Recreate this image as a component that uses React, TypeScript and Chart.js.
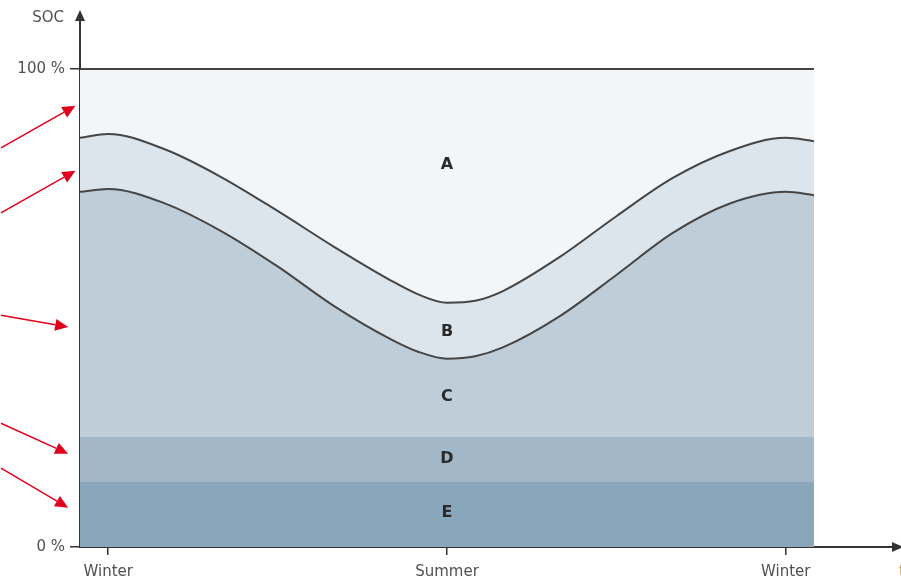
import React, { useEffect, useRef } from "react";
import { Chart, registerables } from "chart.js";

Chart.register(...registerables);

// ---- data ----
const seasonX = [-0.5, 0, 1, 2, 3, 4, 5, 5.5, 6, 6.5, 7, 8, 9, 10, 11, 12, 12.5];
const upperBoundary = [85.6, 86.4, 83.2, 77.4, 70.3, 62.8, 55.8, 52.8, 51.1, 51.5, 53.6, 60.7, 69.2, 77.2, 82.8, 85.6, 84.9];
const lowerBoundary = [74.3, 74.9, 71.9, 66.1, 58.7, 50.4, 43.5, 40.8, 39.4, 39.9, 41.8, 48.3, 56.9, 65.7, 71.8, 74.3, 73.6];
const levelD = 23.0;
const levelE = 13.6;
const levelFull = 100;

const xTickValues = [0, 6, 12];
const xTickLabels = ["Winter", "Summer", "Winter"];
const yTickValues = [0, 100];
const yTickLabels = ["0 %", "100 %"];

const regionNames = ["A", "B", "C", "D", "E"];
const regionLabelX = [6, 6, 6, 6, 6];
const regionLabelY = [79.9, 45.0, 31.4, 18.4, 7.1];

const yAxisTitle = "SOC";
const xAxisTitle = "t";

// red annotation arrows: tail (x,y) -> tip (x,y) in data units
const arrowTailX = [-1.9, -1.9, -1.9, -1.9, -1.9];
const arrowTailY = [83.5, 69.9, 48.5, 25.9, 16.5];
const arrowTipX = [-0.58, -0.58, -0.71, -0.71, -0.71];
const arrowTipY = [92.3, 78.7, 46.0, 19.5, 8.2];

const colA = "#f3f6f9";
const colB = "#dce4ec";
const colC = "#bfcdd9";
const colD = "#a2b7c8";
const colE = "#8aa6ba";
const lineCol = "#454545";
const axisCol = "#333333";
const textCol = "#505050";
const FONT = "'DejaVu Sans', sans-serif";

const xMin = -0.5;
const xMax = 13.9;
const yMax = 110.25;

function pts(ys: number[]) {
  return seasonX.map((x, i) => ({ x, y: ys[i] }));
}
function flat(v: number) {
  return [
    { x: seasonX[0], y: v },
    { x: seasonX[seasonX.length - 1], y: v },
  ];
}

const overlay = {
  id: "overlay",
  afterDraw(chart: any) {
    const { ctx, chartArea, scales } = chart;
    const xs = scales.x;
    const ys = scales.y;
    ctx.save();
    // axis arrowheads
    ctx.fillStyle = axisCol;
    const left = chartArea.left;
    const top = chartArea.top;
    const bottom = chartArea.bottom;
    const right = chartArea.right;
    ctx.beginPath();
    ctx.moveTo(left, top - 10);
    ctx.lineTo(left - 5, top + 1);
    ctx.lineTo(left + 5, top + 1);
    ctx.closePath();
    ctx.fill();
    ctx.beginPath();
    ctx.moveTo(right + 10, bottom);
    ctx.lineTo(right - 1, bottom - 5);
    ctx.lineTo(right - 1, bottom + 5);
    ctx.closePath();
    ctx.fill();

    // axis titles
    ctx.fillStyle = textCol;
    ctx.font = `15px ${FONT}`;
    ctx.textAlign = "right";
    ctx.textBaseline = "middle";
    ctx.fillText(yAxisTitle, left - 16, top - 2);
    ctx.fillStyle = "#c8923a";
    ctx.textAlign = "left";
    ctx.fillText(xAxisTitle, right + 6, bottom + 25);

    // region letters
    ctx.fillStyle = "#2a2a2a";
    ctx.font = `bold 16px ${FONT}`;
    ctx.textAlign = "center";
    ctx.textBaseline = "middle";
    regionNames.forEach((n, i) => {
      ctx.fillText(n, xs.getPixelForValue(regionLabelX[i]), ys.getPixelForValue(regionLabelY[i]));
    });

    // red arrows
    ctx.strokeStyle = "#e0001b";
    ctx.fillStyle = "#e0001b";
    ctx.lineWidth = 1.5;
    arrowTipX.forEach((_, i) => {
      const x0 = xs.getPixelForValue(arrowTailX[i]);
      const y0 = ys.getPixelForValue(arrowTailY[i]);
      const x1 = xs.getPixelForValue(arrowTipX[i]);
      const y1 = ys.getPixelForValue(arrowTipY[i]);
      const ang = Math.atan2(y1 - y0, x1 - x0);
      const hl = 13;
      const hw = 6;
      const bx = x1 - hl * Math.cos(ang);
      const by = y1 - hl * Math.sin(ang);
      ctx.beginPath();
      ctx.moveTo(x0, y0);
      ctx.lineTo(bx, by);
      ctx.stroke();
      ctx.beginPath();
      ctx.moveTo(x1, y1);
      ctx.lineTo(bx + hw * Math.sin(ang), by - hw * Math.cos(ang));
      ctx.lineTo(bx - hw * Math.sin(ang), by + hw * Math.cos(ang));
      ctx.closePath();
      ctx.fill();
    });
    ctx.restore();
  },
};

export default function App() {
  const ref = useRef<HTMLCanvasElement | null>(null);
  useEffect(() => {
    if (!ref.current) return;
    const line = (data: any[], bg: string, border: boolean, fill: any) => ({
      data,
      backgroundColor: bg,
      borderColor: border ? lineCol : "rgba(0,0,0,0)",
      borderWidth: border ? 2 : 0,
      pointRadius: 0,
      cubicInterpolationMode: "monotone",
      fill,
    });
    const chart = new Chart(ref.current, {
      type: "line",
      data: {
        datasets: [
          line(flat(levelE), colE, false, "origin"),
          line(flat(levelD), colD, false, "-1"),
          line(pts(lowerBoundary), colC, true, "-1"),
          line(pts(upperBoundary), colB, true, "-1"),
          line(flat(levelFull), colA, true, "-1"),
        ] as any,
      },
      options: {
        animation: false,
        responsive: false,
        layout: { padding: { top: 20, right: 8, left: 0, bottom: 0 } },
        plugins: {
          legend: { display: false },
          tooltip: { enabled: false },
          filler: { drawTime: "beforeDatasetsDraw" } as any,
        },
        scales: {
          x: {
            type: "linear",
            min: xMin,
            max: xMax,
            afterBuildTicks: (s: any) => {
              s.ticks = xTickValues.map((v) => ({ value: v }));
            },
            afterFit: (s: any) => {
              s.height = 36;
            },
            ticks: {
              autoSkip: false,
              maxRotation: 0,
              padding: 8,
              color: textCol,
              font: { family: FONT, size: 15 },
              callback: (v: any) => {
                const i = xTickValues.indexOf(Number(v));
                return i >= 0 ? xTickLabels[i] : "";
              },
            },
            grid: { drawOnChartArea: false, drawTicks: true, tickLength: 8, color: axisCol, lineWidth: 1.5 },
            border: { display: true, color: axisCol, width: 2 },
          },
          y: {
            type: "linear",
            min: 0,
            max: yMax,
            afterBuildTicks: (s: any) => {
              s.ticks = yTickValues.map((v) => ({ value: v }));
            },
            afterFit: (s: any) => {
              s.width = 80;
            },
            ticks: {
              autoSkip: false,
              padding: 5,
              color: textCol,
              font: { family: FONT, size: 15 },
              callback: (v: any) => {
                const i = yTickValues.indexOf(Number(v));
                return i >= 0 ? yTickLabels[i] : "";
              },
            },
            grid: { drawOnChartArea: false, drawTicks: true, tickLength: 10, color: axisCol, lineWidth: 1.5 },
            border: { display: true, color: axisCol, width: 2 },
          },
        },
      },
      plugins: [overlay],
    });
    return () => chart.destroy();
  }, []);
  return (
    <div style={{ position: "absolute", left: 0, top: 0, width: 901, height: 583, background: "#fff" }}>
      <canvas ref={ref} width={901} height={583} style={{ display: "block" }} />
    </div>
  );
}
